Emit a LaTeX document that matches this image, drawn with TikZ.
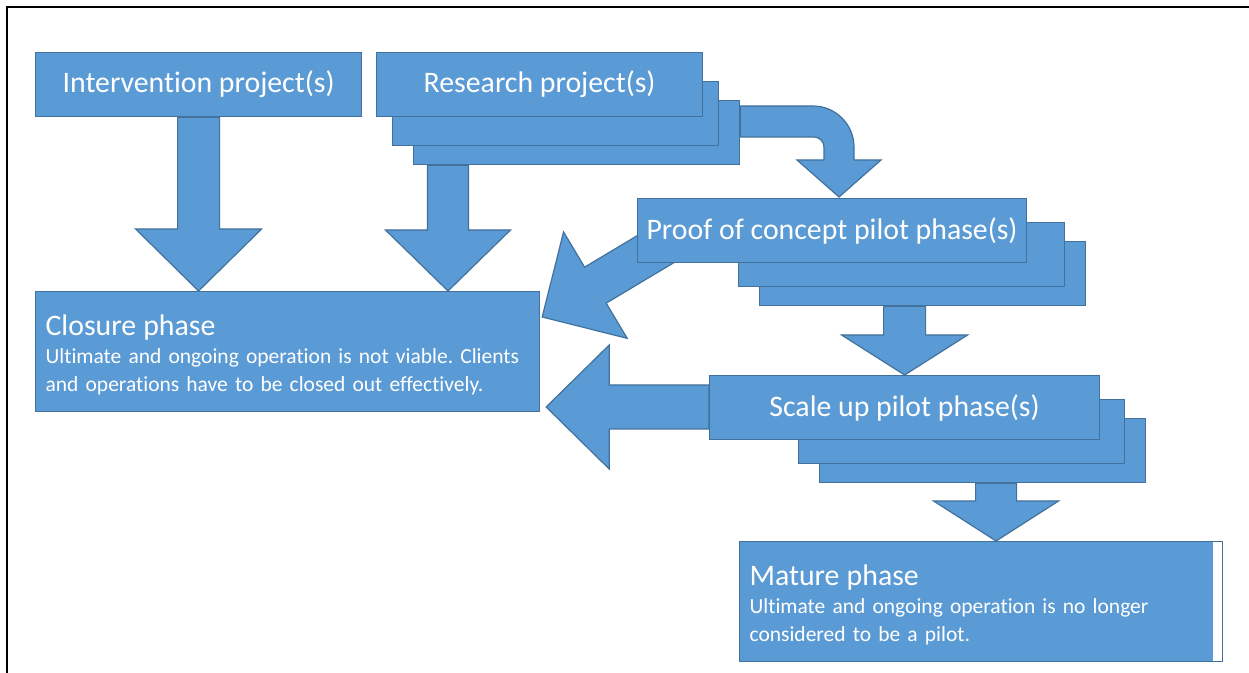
\documentclass[tikz,border=0pt]{standalone}
\usepackage{fontspec}
\setmainfont[Ligatures=NoCommon]{Carlito}
\usetikzlibrary{calc,positioning}
\frenchspacing

\definecolor{boxblue}{HTML}{5B9BD5}
\definecolor{boxedge}{HTML}{41719C}

% fat block arrows: #1 start, #2 tip, shaft half width, head half width, head length
\newcommand{\blockdown}[5]{%
  \filldraw[blockarrow] ($(#1)+(-#3,0)$) -- ($(#2)+(-#3,-#5)$) -- ($(#2)+(-#4,-#5)$) -- (#2)
    -- ($(#2)+(#4,-#5)$) -- ($(#2)+(#3,-#5)$) -- ($(#1)+(#3,0)$) -- cycle;}
\newcommand{\blockleft}[5]{%
  \filldraw[blockarrow] ($(#1)+(0,-#3)$) -- ($(#2)+(#5,-#3)$) -- ($(#2)+(#5,-#4)$) -- (#2)
    -- ($(#2)+(#5,#4)$) -- ($(#2)+(#5,#3)$) -- ($(#1)+(0,#3)$) -- cycle;}
\newcommand{\phasetitle}[1]{{\fontsize{14.9}{17}\selectfont\rule{0pt}{13.7pt}#1}}

\tikzset{
  stage/.style={draw=boxedge, fill=boxblue, line width=0.6pt, text=white, anchor=north west,
    minimum width=163pt, minimum height=32pt, inner sep=0pt, font=\fontsize{14.9}{17}\selectfont},
  phase/.style={stage, align=left, inner xsep=5pt, minimum height=60pt, font=\fontsize{10.75}{14}\selectfont},
  blockarrow/.style={draw=boxedge, fill=boxblue, line width=0.6pt},
  frame/.style={line width=1.3pt}
}

\begin{document}
\begin{tikzpicture}[x=0.5pt, y=-0.5pt]

                \useasboundingbox (0,0) rectangle (1249,673);
                \draw[frame] (7,673) |- (1249,7);

                % top row
                \node[stage] (int) at (35,52) {Intervention project(s)};
                \node[stage] (res3) at (413,100) {};
                \node[stage] (res2) at (392,81) {};
                \node[stage] (res) at (376,52) {Research project(s)};

                % end phases
                \node[phase, text width=242pt] (close) at (35,291) {\phasetitle{Closure phase}\\
                    Ultimate and ongoing operation is not viable. Clients\\
                    and operations have to be closed out effectively.};
                \node[phase, text width=231.5pt] (mat) at (739,541) {\phasetitle{Mature phase}\\
                    Ultimate and ongoing operation is no longer\\
                    considered to be a pilot.};
                \fill[white] ($(mat.north east)+(-10,1)$) rectangle ($(mat.south east)+(-1,-1)$);

                % arrows from the projects
                \blockdown{int.south}{close.north -| int.south}{21}{63}{62}
                \coordinate (r0) at ($(res3.south west)+(35,0)$);
                \blockdown{r0}{r0 |- close.north}{20.5}{62.5}{61}

                % curved arrow into the proof of concept phase
                \coordinate (a) at (res3.north east);
                \coordinate (t) at (839,197);
                \filldraw[blockarrow] ($(a)+(0,6)$) -- ($(t |- a)+(-26,6)$)
                    .. controls ($(t |- a)+(-3.4,6)$) and ($(t)+(15,-72.6)$) .. ($(t)+(15,-50)$)
                    -- ($(t)+(15,-37)$) -- ($(t)+(42,-37)$) -- (t) -- ($(t)+(-42,-37)$) -- ($(t)+(-15,-37)$)
                    -- ($(t)+(-15,-50)$) .. controls ($(t)+(-15,-55.5)$) and ($(t)+(-19.5,-60)$) .. ($(t)+(-25,-60)$)
                    -- ($(a)+(0,37)$) -- cycle;

                % diagonal arrow back to closure
                \coordinate (ptip) at ($(close.north east)+(2,26)$);
                \begin{scope}[shift={(ptip)}, rotate=30.9]
                    \filldraw[blockarrow] (0,0) -- (62,-62) -- (62,-21) -- (145,-21) -- (145,21) -- (62,21) -- (62,62) -- cycle;
                \end{scope}

                % proof of concept pilot
                \node[stage] (pro3) at (759,241) {};
                \node[stage] (pro2) at (738,222) {};
                \node[stage, minimum width=194.5pt] (pro) at (637,198) {Proof of concept pilot phase(s)};

                \node[stage] (sca3) at (819,418) {};
                \node[stage] (sca2) at (798,399) {};

                % arrows out of the scale up pilot
                \blockleft{709,407}{$(709,407 -| close.east)+(6,0)$}{22}{62}{63}
                \node[stage, minimum width=195pt] (sca) at (709,375) {Scale up pilot phase(s)};
                \blockdown{pro3.south -| sca.north}{sca.north}{21}{63}{40}

                \coordinate (m0) at ($(mat.north)+(15,0)$);
                \blockdown{sca3.south -| m0}{m0}{20.5}{62.5}{40}

            \end{tikzpicture}
\end{document}
